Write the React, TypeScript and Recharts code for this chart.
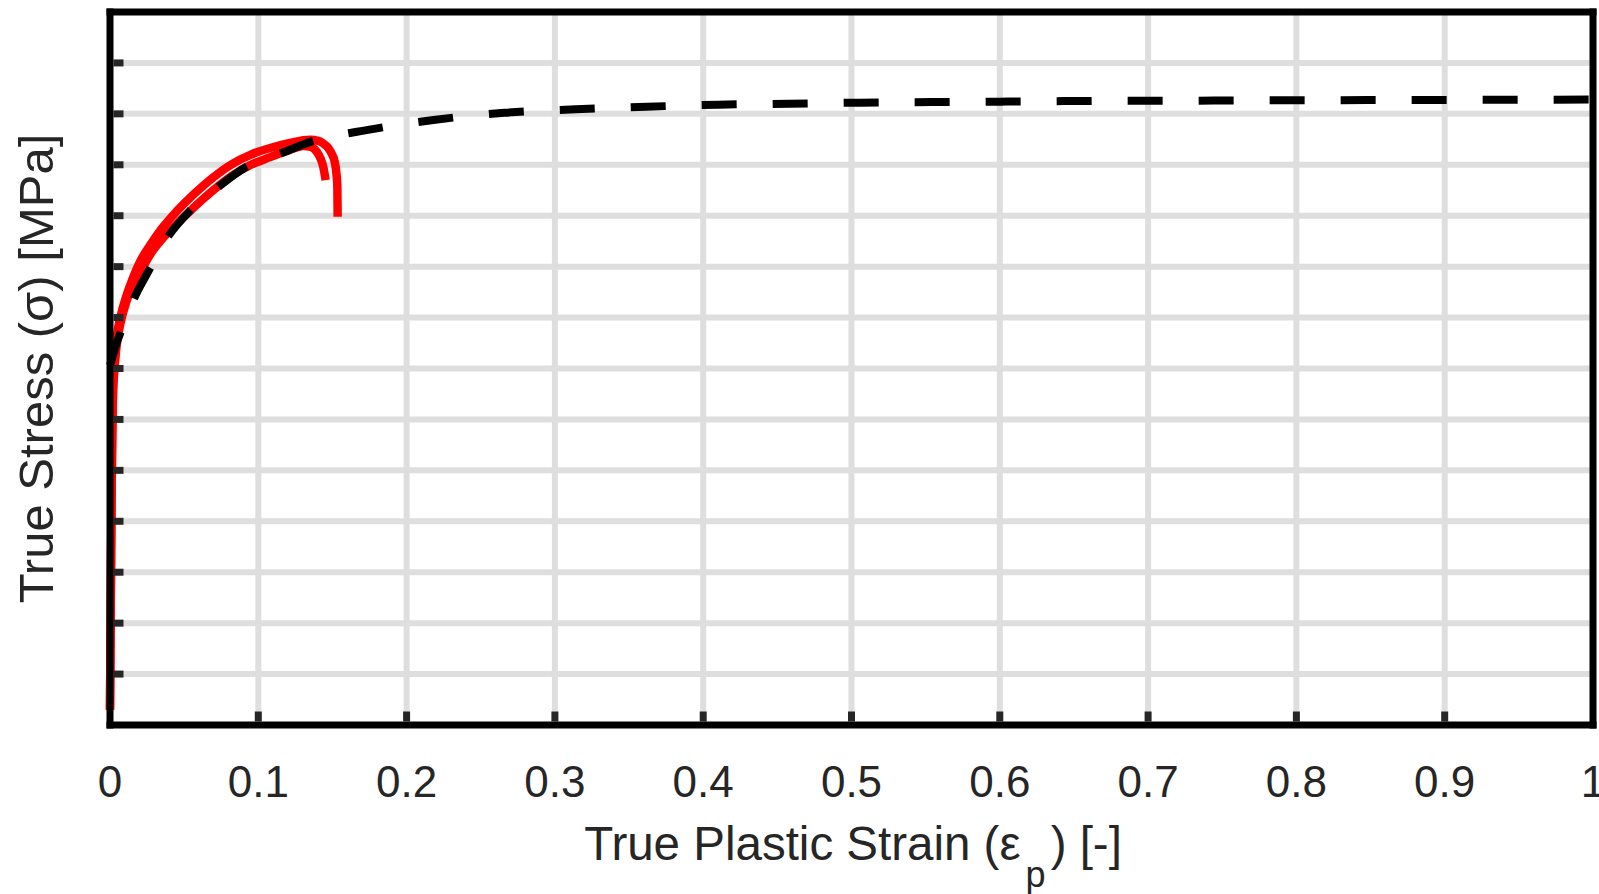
import { LineChart, Line, XAxis, YAxis, CartesianGrid, Label } from 'recharts';

// axis ticks
const strainTicks = [0, 0.1, 0.2, 0.3, 0.4, 0.5, 0.6, 0.7, 0.8, 0.9, 1];
const stressTicks = [0, 50, 100, 150, 200, 250, 300, 350, 400, 450, 500, 550, 600, 650, 700];

// fitted hardening law (dashed black)
const fitStrain = [0, 0.005, 0.01, 0.0157, 0.0265, 0.038, 0.054, 0.072, 0.092, 0.115, 0.136, 0.173, 0.218, 0.266, 0.314, 0.362, 0.41, 0.458, 0.506, 0.554, 0.6, 0.65, 0.7, 0.745, 0.79, 0.85, 0.9, 0.95, 1.0];
const fitStress = [353, 377, 396, 417, 447, 477, 505, 527, 548, 561, 573, 584, 594, 601, 604.5, 607, 609, 610, 611, 611.6, 612, 612.6, 612.8, 613, 613.3, 613.5, 613.7, 613.9, 614];

// test specimen A (red, shorter tail)
const testStrainA = [0, 0.0005, 0.001, 0.0015, 0.002, 0.003, 0.0045, 0.0073, 0.011, 0.015, 0.0207, 0.028, 0.035, 0.0416, 0.05, 0.064, 0.082, 0.095, 0.108, 0.12, 0.1304, 0.1355, 0.1393, 0.142, 0.1438, 0.1454];
const testStressA = [15, 118, 214, 284, 324, 349, 373, 396, 415.5, 430.5, 445.5, 464, 477, 487, 499, 518, 539, 550, 557.5, 564, 568.5, 567.5, 563, 556, 548, 535];

// test specimen B (red, longer tail)
const testStrainB = [0, 0.0005, 0.001, 0.0015, 0.002, 0.003, 0.0045, 0.0073, 0.011, 0.015, 0.0207, 0.028, 0.035, 0.0416, 0.05, 0.064, 0.082, 0.095, 0.108, 0.1214, 0.1349, 0.1405, 0.1437, 0.1472, 0.1494, 0.1515, 0.1524, 0.153, 0.1533, 0.1535];
const testStressB = [15, 122, 220, 290, 330, 354, 380, 402, 421, 437, 456, 473, 487.5, 499, 512, 531, 550.5, 560, 566.5, 571.5, 574.5, 573.5, 571, 566.5, 561, 553, 545, 536, 528, 499];

const toPoints = (xs: number[], ys: number[]) => xs.map((x, i) => ({ strain: x, stress: ys[i] }));

const fitData = toPoints(fitStrain, fitStress);
const testDataA = toPoints(testStrainA, testStressA);
const testDataB = toPoints(testStrainB, testStressB);

const FONT = '"Liberation Sans", Arial, Helvetica, sans-serif';
const INK = '#262626';
const TICK_W = 7;
const TICK_LEN = 10;
const AXIS_W = 7;

const axisLine = { stroke: '#000', strokeWidth: AXIS_W, strokeLinecap: 'square' as const };

const isEnd = (v: number) => v === 0 || v === 1 || v === 700;

const BottomTick = (props: any) => {
  const { x, y, payload } = props;
  const v = payload.value;
  const text = v === 0 || v === 1 ? String(v) : v.toFixed(1);
  return (
    <g>
      {!isEnd(v) && (
        <line x1={x} x2={x} y1={y - AXIS_W / 2} y2={y - AXIS_W / 2 - TICK_LEN} stroke={INK} strokeWidth={TICK_W} />
      )}
      <text x={x} y={y + 72} textAnchor="middle" fontSize={44} fill={INK} fontFamily={FONT}>
        {text}
      </text>
    </g>
  );
};

const TopTick = (props: any) => {
  const { x, y, payload } = props;
  if (isEnd(payload.value)) return <g />;
  return <line x1={x} x2={x} y1={y + AXIS_W / 2} y2={y + AXIS_W / 2 + TICK_LEN} stroke={INK} strokeWidth={TICK_W} />;
};

const LeftTick = (props: any) => {
  const { x, y, payload } = props;
  if (payload.value === 0 || payload.value === 700) return <g />;
  return <line x1={x + AXIS_W / 2} x2={x + AXIS_W / 2 + TICK_LEN} y1={y} y2={y} stroke={INK} strokeWidth={TICK_W} />;
};

const RightTick = (props: any) => {
  const { x, y, payload } = props;
  if (payload.value === 0 || payload.value === 700) return <g />;
  return <line x1={x - AXIS_W / 2} x2={x - AXIS_W / 2 - TICK_LEN} y1={y} y2={y} stroke={INK} strokeWidth={TICK_W} />;
};

const XTitle = (props: any) => {
  const vb = props.viewBox || { x: 110, y: 725, width: 1483, height: 169 };
  return (
    <text x={vb.x + vb.width / 2 + 1.5} y={vb.y + 135} textAnchor="middle" fontSize={47.5} fill={INK} fontFamily={FONT}>
      <tspan>True Plastic Strain (ε</tspan>
      <tspan dx={5} dy={27} fontSize={36}>p</tspan>
      <tspan dx={5} dy={-27}>) [-]</tspan>
    </text>
  );
};

const YTitle = (props: any) => {
  const vb = props.viewBox || { x: 109, y: 12, width: 1, height: 713 };
  const cx = vb.x + vb.width - 57;
  const cy = vb.y + vb.height / 2;
  return (
    <text x={cx} y={cy} transform={`rotate(-90, ${cx}, ${cy})`} textAnchor="middle" fontSize={49} fill={INK} fontFamily={FONT}>
      True Stress (σ) [MPa]
    </text>
  );
};

export default function App() {
  return (
    <div style={{ position: 'absolute', left: 0, top: 0, background: '#fff' }}>
      <LineChart width={1599} height={894} margin={{ top: 11, right: 5, bottom: 0, left: 109 }}>
        <CartesianGrid stroke="#dedede" strokeWidth={6} />
        <XAxis
          type="number"
          dataKey="strain"
          domain={[0, 1]}
          ticks={strainTicks}
          interval={0}
          height={169}
          tickSize={0}
          tickMargin={0}
          tickLine={false}
          axisLine={axisLine}
          tick={<BottomTick />}
        >
          <Label content={<XTitle />} />
        </XAxis>
        <XAxis
          xAxisId="top"
          orientation="top"
          type="number"
          domain={[0, 1]}
          ticks={strainTicks}
          interval={0}
          height={1}
          tickSize={0}
          tickMargin={0}
          tickLine={false}
          axisLine={axisLine}
          tick={<TopTick />}
        />
        <YAxis
          type="number"
          domain={[0, 700]}
          ticks={stressTicks}
          interval={0}
          width={1}
          tickSize={0}
          tickMargin={0}
          tickLine={false}
          axisLine={axisLine}
          tick={<LeftTick />}
        >
          <Label content={<YTitle />} />
        </YAxis>
        <YAxis
          yAxisId="right"
          orientation="right"
          type="number"
          domain={[0, 700]}
          ticks={stressTicks}
          interval={0}
          width={1}
          tickSize={0}
          tickMargin={0}
          tickLine={false}
          axisLine={axisLine}
          tick={<RightTick />}
        />
        <Line data={testDataA} dataKey="stress" type="monotone" stroke="#ff0000" strokeWidth={8.5} dot={false} activeDot={false} strokeLinejoin="round" isAnimationActive={false} />
        <Line data={testDataB} dataKey="stress" type="monotone" stroke="#ff0000" strokeWidth={8.5} dot={false} activeDot={false} strokeLinejoin="round" isAnimationActive={false} />
        <Line data={fitData} dataKey="stress" type="monotone" stroke="#000" strokeWidth={8} strokeDasharray="35 36" dot={false} activeDot={false} isAnimationActive={false} />
      </LineChart>
    </div>
  );
}
